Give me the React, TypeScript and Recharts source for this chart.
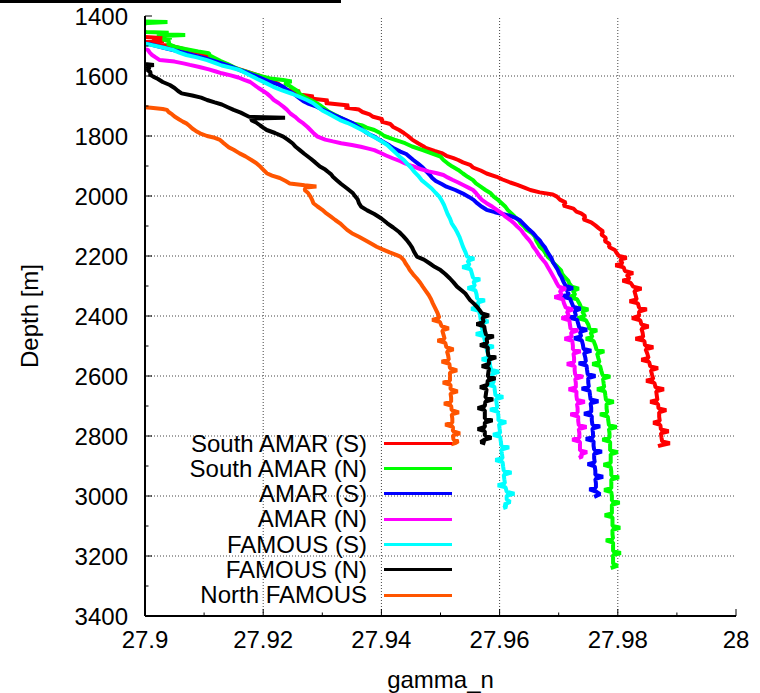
import React from 'react';
import { LineChart, Line, XAxis, YAxis, ReferenceLine, Legend } from 'recharts';

const FONT = 'Liberation Sans, Arial, Helvetica, sans-serif';

const xTicks = [27.9, 27.91, 27.92, 27.93, 27.94, 27.95, 27.96, 27.97, 27.98, 27.99, 28];
const xMajor = [27.9, 27.92, 27.94, 27.96, 27.98, 28];
const yTicks = [1400, 1500, 1600, 1700, 1800, 1900, 2000, 2100, 2200, 2300, 2400, 2500, 2600, 2700, 2800, 2900, 3000, 3100, 3200, 3300, 3400];
const yMajor = [1400, 1600, 1800, 2000, 2200, 2400, 2600, 2800, 3000, 3200, 3400];
const xGrid = [27.92, 27.94, 27.96, 27.98];
const yGrid = [1600, 1800, 2000, 2200, 2400, 2600, 2800, 3000, 3200];

const seriesNames = ['South AMAR (S)', 'South AMAR (N)', 'AMAR (S)', 'AMAR (N)', 'FAMOUS (S)', 'FAMOUS (N)', 'North FAMOUS'];
const seriesColors = ['#ff0000', '#00ff00', '#0000ff', '#ff00ff', '#00ffff', '#000000', '#ff5500'];

// [depth (m), gamma_n]
const southAmarS: [number, number][] = [
  [1470, 27.9], [1474, 27.9036], [1478, 27.9012], [1483, 27.9032], [1488, 27.899],
  [1500, 27.9045], [1525, 27.9095], [1550, 27.9125], [1575, 27.9155], [1600, 27.9195], [1625, 27.9225],
  [1647, 27.924], [1652, 27.9262], [1660, 27.9255], [1668, 27.9285], [1675, 27.928], [1682, 27.931],
  [1690, 27.9305], [1698, 27.9345], [1705, 27.9338], [1712, 27.9362], [1720, 27.9368], [1728, 27.938],
  [1736, 27.9386], [1744, 27.9402], [1752, 27.94], [1760, 27.9415], [1770, 27.942], [1780, 27.943],
  [1790, 27.9438], [1800, 27.9445], [1812, 27.9452], [1824, 27.9462], [1833, 27.947], [1840, 27.9475],
  [1850, 27.949], [1857, 27.9502], [1866, 27.951], [1874, 27.9522], [1880, 27.953], [1888, 27.9538],
  [1896, 27.955], [1905, 27.9555], [1915, 27.9568], [1925, 27.9578], [1936, 27.9595], [1945, 27.9605],
  [1955, 27.9618], [1963, 27.963], [1972, 27.9642], [1980, 27.9652], [1988, 27.9668], [1995, 27.969],
  [2002, 27.9697], [2012, 27.9702], [2022, 27.9712], [2032, 27.9708], [2042, 27.9725], [2052, 27.973],
  [2058, 27.9738], [2068, 27.9745], [2078, 27.9742], [2088, 27.9755], [2098, 27.9762], [2108, 27.9768],
  [2118, 27.9775], [2128, 27.9772], [2140, 27.978], [2150, 27.9778], [2160, 27.9786], [2170, 27.9785],
  [2180, 27.9795], [2190, 27.9798], [2200, 27.9802], [2206, 27.9815], [2212, 27.9804], [2225, 27.9808],
  [2231, 27.9796], [2238, 27.981], [2250, 27.9812], [2257, 27.9826], [2263, 27.9815], [2276, 27.982],
  [2282, 27.9808], [2290, 27.9822], [2302, 27.9826], [2309, 27.984], [2316, 27.9828], [2330, 27.983],
  [2345, 27.9832], [2351, 27.982], [2358, 27.9834], [2372, 27.9836], [2378, 27.9849], [2385, 27.9836],
  [2400, 27.9836], [2407, 27.9824], [2414, 27.9838], [2428, 27.984], [2435, 27.9852], [2442, 27.984],
  [2456, 27.9842], [2470, 27.9843], [2476, 27.983], [2483, 27.9845], [2498, 27.9846], [2504, 27.986],
  [2511, 27.9847], [2526, 27.985], [2540, 27.9852], [2546, 27.984], [2553, 27.9853], [2568, 27.9855],
  [2574, 27.9868], [2581, 27.9856], [2596, 27.9858], [2610, 27.986], [2616, 27.9848], [2623, 27.9862],
  [2638, 27.9864], [2644, 27.9878], [2651, 27.9865], [2666, 27.9866], [2680, 27.9867], [2686, 27.9855],
  [2693, 27.9868], [2708, 27.9869], [2714, 27.9882], [2721, 27.987], [2736, 27.987], [2750, 27.9871],
  [2756, 27.986], [2763, 27.9872], [2778, 27.9873], [2784, 27.9886], [2791, 27.9873], [2806, 27.9874],
  [2818, 27.9875], [2824, 27.9888], [2830, 27.9875], [2834, 27.9868],
];

const southAmarN: [number, number][] = [
  [1418, 27.9], [1420, 27.9038], [1423, 27.9005], [1430, 27.899], [1448, 27.899], [1453, 27.9002],
  [1456, 27.904], [1460, 27.902], [1463, 27.9068], [1467, 27.903], [1472, 27.9045], [1478, 27.903],
  [1485, 27.9042], [1492, 27.9038], [1502, 27.905], [1510, 27.9068], [1518, 27.909], [1524, 27.9108],
  [1532, 27.911], [1540, 27.9118], [1550, 27.9128], [1560, 27.914], [1570, 27.915], [1580, 27.9162],
  [1590, 27.9178], [1600, 27.9195], [1608, 27.9212], [1613, 27.9234], [1618, 27.9248], [1624, 27.9236],
  [1632, 27.9244], [1640, 27.925], [1650, 27.9258], [1660, 27.9262], [1670, 27.927], [1680, 27.928],
  [1690, 27.929], [1700, 27.9298], [1710, 27.9305], [1720, 27.9312], [1730, 27.9322], [1740, 27.9332],
  [1750, 27.9342], [1758, 27.9352], [1765, 27.9368], [1772, 27.9375], [1780, 27.9388], [1790, 27.9398],
  [1800, 27.9405], [1812, 27.9422], [1824, 27.944], [1835, 27.9452], [1847, 27.947], [1858, 27.9485],
  [1869, 27.95], [1880, 27.9505], [1891, 27.9512], [1902, 27.952], [1913, 27.953], [1925, 27.9538],
  [1936, 27.9546], [1947, 27.9555], [1958, 27.956], [1969, 27.9568], [1980, 27.9576], [1991, 27.9585],
  [2002, 27.959], [2014, 27.9598], [2025, 27.9604], [2036, 27.961], [2047, 27.9614], [2058, 27.962],
  [2070, 27.9626], [2080, 27.9632], [2092, 27.9636], [2103, 27.9642], [2113, 27.9646], [2124, 27.9655],
  [2136, 27.966], [2148, 27.9662], [2158, 27.9665], [2169, 27.9668], [2180, 27.9674], [2192, 27.9678],
  [2204, 27.9682], [2214, 27.9688], [2225, 27.9692], [2236, 27.9698], [2248, 27.9704], [2260, 27.9706],
  [2270, 27.971], [2282, 27.9716], [2292, 27.9718], [2302, 27.9722], [2309, 27.9734], [2316, 27.9724],
  [2330, 27.9728], [2337, 27.9716], [2344, 27.9731], [2358, 27.9735], [2372, 27.9738], [2378, 27.975],
  [2385, 27.974], [2400, 27.9744], [2407, 27.9732], [2414, 27.9746], [2428, 27.975], [2442, 27.9752],
  [2448, 27.9765], [2455, 27.9754], [2470, 27.9757], [2476, 27.9746], [2483, 27.9759], [2498, 27.9762],
  [2512, 27.9764], [2518, 27.9777], [2525, 27.9765], [2540, 27.9767], [2554, 27.9769], [2560, 27.9757],
  [2567, 27.977], [2582, 27.9772], [2596, 27.9774], [2602, 27.9787], [2609, 27.9775], [2624, 27.9776],
  [2638, 27.9777], [2644, 27.9765], [2651, 27.9778], [2666, 27.9779], [2680, 27.978], [2686, 27.9793],
  [2693, 27.9781], [2708, 27.9781], [2722, 27.9782], [2728, 27.977], [2735, 27.9783], [2750, 27.9784],
  [2764, 27.9785], [2770, 27.9798], [2777, 27.9785], [2792, 27.9786], [2806, 27.9786], [2812, 27.9774],
  [2819, 27.9787], [2834, 27.9787], [2848, 27.9787], [2854, 27.98], [2861, 27.9788], [2876, 27.9788],
  [2890, 27.9788], [2896, 27.9776], [2903, 27.9788], [2918, 27.9789], [2932, 27.9789], [2938, 27.9802],
  [2945, 27.9789], [2960, 27.9789], [2974, 27.9789], [2980, 27.9777], [2987, 27.9789], [3002, 27.979],
  [3016, 27.979], [3022, 27.9803], [3029, 27.979], [3044, 27.979], [3058, 27.979], [3064, 27.9778],
  [3071, 27.9791], [3086, 27.9791], [3100, 27.9791], [3106, 27.9804], [3113, 27.9791], [3128, 27.9791],
  [3142, 27.9792], [3148, 27.978], [3155, 27.9792], [3170, 27.9792], [3184, 27.9792], [3190, 27.9805],
  [3197, 27.9792], [3212, 27.9792], [3226, 27.9792], [3232, 27.98], [3240, 27.9788],
];

const amarS: [number, number][] = [
  [1490, 27.8992], [1494, 27.9008], [1500, 27.902], [1510, 27.904], [1517, 27.9055], [1524, 27.907],
  [1532, 27.9085], [1540, 27.91], [1549, 27.9115], [1558, 27.913], [1568, 27.9145], [1580, 27.916],
  [1590, 27.9175], [1602, 27.919], [1612, 27.9202], [1620, 27.9212], [1628, 27.9225], [1636, 27.9234],
  [1648, 27.9242], [1660, 27.9252], [1672, 27.926], [1684, 27.9268], [1691, 27.9275], [1700, 27.9288],
  [1710, 27.9298], [1720, 27.931], [1730, 27.932], [1740, 27.9332], [1747, 27.934], [1756, 27.935],
  [1766, 27.9358], [1775, 27.9365], [1785, 27.9372], [1795, 27.938], [1802, 27.9388], [1812, 27.9396],
  [1822, 27.9405], [1832, 27.9414], [1842, 27.9422], [1852, 27.9432], [1860, 27.9442], [1870, 27.9448],
  [1880, 27.9454], [1892, 27.9462], [1905, 27.947], [1918, 27.9476], [1930, 27.9482], [1940, 27.9486],
  [1950, 27.9492], [1960, 27.9502], [1969, 27.951], [1980, 27.9525], [1992, 27.9538], [2003, 27.9548],
  [2013, 27.9556], [2024, 27.9562], [2036, 27.957], [2046, 27.9578], [2054, 27.9592], [2060, 27.9605],
  [2066, 27.9618], [2074, 27.9628], [2082, 27.9635], [2092, 27.964], [2102, 27.9645], [2112, 27.965],
  [2124, 27.9657], [2136, 27.9662], [2148, 27.9668], [2160, 27.9672], [2172, 27.9677], [2184, 27.968],
  [2196, 27.9684], [2208, 27.9688], [2220, 27.969], [2232, 27.9694], [2245, 27.9698], [2258, 27.9701],
  [2272, 27.9705], [2286, 27.9708], [2300, 27.9712], [2307, 27.9724], [2314, 27.9714], [2328, 27.9717],
  [2335, 27.9705], [2342, 27.9719], [2356, 27.9722], [2370, 27.9725], [2376, 27.9737], [2383, 27.9727],
  [2398, 27.9729], [2405, 27.9717], [2412, 27.9731], [2426, 27.9733], [2440, 27.9735], [2446, 27.9748],
  [2453, 27.9736], [2468, 27.9738], [2474, 27.9726], [2481, 27.9739], [2496, 27.9741], [2510, 27.9742],
  [2516, 27.9755], [2523, 27.9743], [2538, 27.9745], [2552, 27.9746], [2558, 27.9734], [2565, 27.9747],
  [2580, 27.9748], [2594, 27.9749], [2600, 27.9762], [2607, 27.975], [2622, 27.975], [2636, 27.9751],
  [2642, 27.9739], [2649, 27.9752], [2664, 27.9753], [2678, 27.9754], [2684, 27.9767], [2691, 27.9754],
  [2706, 27.9755], [2720, 27.9755], [2726, 27.9743], [2733, 27.9756], [2748, 27.9756], [2762, 27.9757],
  [2768, 27.977], [2775, 27.9757], [2790, 27.9758], [2804, 27.9758], [2810, 27.9746], [2817, 27.9759],
  [2832, 27.9759], [2846, 27.976], [2852, 27.9773], [2859, 27.976], [2874, 27.976], [2888, 27.9761],
  [2894, 27.9749], [2901, 27.9761], [2916, 27.9762], [2930, 27.9762], [2936, 27.9775], [2943, 27.9762],
  [2958, 27.9763], [2972, 27.9763], [2978, 27.9752], [2985, 27.9763], [2994, 27.977], [3003, 27.976],
];

const amarN: [number, number][] = [
  [1508, 27.8992], [1513, 27.9005], [1522, 27.9008], [1530, 27.9012], [1538, 27.9018], [1547, 27.9025],
  [1552, 27.905], [1558, 27.9065], [1563, 27.9076], [1570, 27.9092], [1578, 27.9108], [1585, 27.912],
  [1591, 27.913], [1598, 27.9145], [1605, 27.9158], [1613, 27.9168], [1620, 27.9178], [1630, 27.9185],
  [1640, 27.9192], [1650, 27.92], [1658, 27.9206], [1668, 27.9212], [1680, 27.9218], [1690, 27.9226],
  [1702, 27.9234], [1712, 27.924], [1725, 27.9246], [1736, 27.9254], [1747, 27.926], [1758, 27.9268],
  [1770, 27.9275], [1780, 27.928], [1792, 27.9286], [1802, 27.9292], [1812, 27.9305], [1818, 27.9318],
  [1824, 27.9332], [1830, 27.935], [1836, 27.9365], [1842, 27.9378], [1847, 27.9388], [1856, 27.9398],
  [1865, 27.9408], [1875, 27.942], [1884, 27.9432], [1891, 27.944], [1900, 27.9452], [1910, 27.9466],
  [1918, 27.948], [1924, 27.9494], [1930, 27.9505], [1938, 27.9512], [1946, 27.952], [1955, 27.953],
  [1965, 27.954], [1973, 27.9548], [1980, 27.9555], [1990, 27.956], [2002, 27.9565], [2013, 27.957],
  [2024, 27.9578], [2036, 27.9588], [2047, 27.9596], [2058, 27.9604], [2069, 27.961], [2080, 27.9618],
  [2092, 27.9625], [2102, 27.963], [2113, 27.9636], [2124, 27.964], [2136, 27.9645], [2147, 27.965],
  [2158, 27.9654], [2169, 27.9657], [2182, 27.9662], [2195, 27.9666], [2210, 27.9672], [2224, 27.9678],
  [2238, 27.9682], [2252, 27.9686], [2266, 27.969], [2280, 27.9694], [2292, 27.9697], [2302, 27.97],
  [2309, 27.9712], [2316, 27.9702], [2330, 27.9705], [2337, 27.9693], [2344, 27.9707], [2358, 27.9709],
  [2372, 27.9712], [2378, 27.9724], [2385, 27.9714], [2400, 27.9717], [2407, 27.9705], [2414, 27.9718],
  [2428, 27.9719], [2442, 27.972], [2448, 27.9733], [2455, 27.9721], [2470, 27.9722], [2476, 27.971],
  [2483, 27.9723], [2498, 27.9724], [2512, 27.9724], [2518, 27.9737], [2525, 27.9725], [2540, 27.9726],
  [2554, 27.9726], [2560, 27.9714], [2567, 27.9727], [2582, 27.9727], [2596, 27.9728], [2602, 27.9741],
  [2609, 27.9728], [2624, 27.9729], [2638, 27.9729], [2644, 27.9717], [2651, 27.973], [2666, 27.973],
  [2680, 27.9731], [2686, 27.9744], [2693, 27.9731], [2708, 27.9732], [2722, 27.9732], [2728, 27.972],
  [2735, 27.9733], [2750, 27.9733], [2764, 27.9734], [2770, 27.9747], [2777, 27.9734], [2792, 27.9735],
  [2806, 27.9735], [2812, 27.9723], [2819, 27.9736], [2834, 27.9736], [2848, 27.9736], [2854, 27.9748],
  [2861, 27.9737], [2868, 27.974], [2873, 27.9734],
];

const famousS: [number, number][] = [
  [1490, 27.8992], [1494, 27.9005], [1497, 27.9012], [1505, 27.903], [1513, 27.9047], [1522, 27.9058],
  [1530, 27.907], [1538, 27.9088], [1547, 27.9105], [1556, 27.9118], [1565, 27.913], [1572, 27.9145],
  [1580, 27.916], [1590, 27.917], [1600, 27.918], [1610, 27.919], [1622, 27.9203], [1636, 27.9217],
  [1648, 27.9232], [1660, 27.925], [1670, 27.9262], [1680, 27.9274], [1690, 27.9284], [1702, 27.9292],
  [1715, 27.93], [1725, 27.931], [1736, 27.932], [1747, 27.933], [1756, 27.9342], [1765, 27.9352],
  [1775, 27.9362], [1785, 27.9372], [1795, 27.938], [1802, 27.9386], [1815, 27.9398], [1830, 27.941],
  [1845, 27.9418], [1858, 27.9425], [1869, 27.9431], [1880, 27.9438], [1891, 27.9443], [1905, 27.945],
  [1918, 27.9455], [1932, 27.9462], [1947, 27.9468], [1960, 27.9476], [1975, 27.9485], [1990, 27.9492],
  [2002, 27.9498], [2015, 27.9502], [2030, 27.9506], [2045, 27.9509], [2060, 27.9512], [2075, 27.9516],
  [2091, 27.9519], [2106, 27.9524], [2120, 27.9528], [2136, 27.9532], [2152, 27.9535], [2169, 27.9538],
  [2186, 27.9542], [2202, 27.9545], [2209, 27.9557], [2216, 27.9546], [2230, 27.9549], [2237, 27.9537],
  [2244, 27.9551], [2258, 27.9553], [2272, 27.9555], [2278, 27.9567], [2285, 27.9556], [2300, 27.9558],
  [2307, 27.9546], [2314, 27.9559], [2328, 27.9561], [2342, 27.9562], [2348, 27.9575], [2355, 27.9563],
  [2370, 27.9564], [2376, 27.9552], [2383, 27.9565], [2398, 27.9567], [2412, 27.9568], [2418, 27.9581],
  [2425, 27.9569], [2440, 27.957], [2454, 27.9572], [2460, 27.956], [2467, 27.9573], [2482, 27.9575],
  [2496, 27.9577], [2502, 27.959], [2509, 27.9578], [2524, 27.958], [2538, 27.9582], [2544, 27.957],
  [2551, 27.9583], [2566, 27.9584], [2580, 27.9586], [2586, 27.9599], [2593, 27.9587], [2608, 27.9589],
  [2622, 27.959], [2628, 27.9578], [2635, 27.9591], [2650, 27.9592], [2664, 27.9593], [2670, 27.9606],
  [2677, 27.9594], [2692, 27.9595], [2706, 27.9596], [2712, 27.9584], [2719, 27.9597], [2734, 27.9598],
  [2748, 27.9598], [2754, 27.9611], [2761, 27.9599], [2776, 27.96], [2790, 27.9601], [2796, 27.9589],
  [2803, 27.9601], [2818, 27.9602], [2832, 27.9603], [2838, 27.9616], [2845, 27.9603], [2860, 27.9604],
  [2874, 27.9605], [2880, 27.9593], [2887, 27.9605], [2902, 27.9606], [2916, 27.9607], [2922, 27.962],
  [2929, 27.9607], [2944, 27.9608], [2958, 27.9609], [2964, 27.9597], [2971, 27.961], [2986, 27.9612],
  [2992, 27.9625], [2999, 27.9612], [3012, 27.9612], [3020, 27.9618], [3028, 27.9608], [3036, 27.9612],
  [3040, 27.9606],
];

const famousN: [number, number][] = [
  [1557, 27.8992], [1560, 27.9], [1563, 27.9015], [1567, 27.9002], [1572, 27.9008], [1580, 27.9004],
  [1588, 27.901], [1595, 27.9008], [1602, 27.9014], [1610, 27.9022], [1620, 27.903], [1630, 27.9042],
  [1640, 27.905], [1650, 27.9056], [1658, 27.9062], [1665, 27.908], [1672, 27.9095], [1680, 27.9105],
  [1688, 27.9118], [1695, 27.913], [1704, 27.914], [1713, 27.915], [1722, 27.9162], [1730, 27.917],
  [1736, 27.9176], [1739, 27.9237], [1742, 27.918], [1747, 27.918], [1755, 27.9188], [1765, 27.9195],
  [1772, 27.92], [1780, 27.9206], [1790, 27.922], [1802, 27.9234], [1813, 27.9242], [1825, 27.925],
  [1836, 27.9255], [1847, 27.9262], [1860, 27.927], [1875, 27.928], [1888, 27.9288], [1902, 27.9296],
  [1912, 27.9305], [1920, 27.931], [1928, 27.9315], [1936, 27.9318], [1948, 27.9325], [1960, 27.9332],
  [1975, 27.9342], [1991, 27.9352], [2002, 27.9356], [2012, 27.936], [2024, 27.9362], [2036, 27.9366],
  [2048, 27.9376], [2060, 27.9388], [2075, 27.94], [2091, 27.941], [2105, 27.942], [2120, 27.943],
  [2134, 27.9437], [2147, 27.9443], [2160, 27.9448], [2172, 27.9452], [2185, 27.9455], [2202, 27.946],
  [2212, 27.9472], [2225, 27.9482], [2236, 27.949], [2247, 27.95], [2260, 27.9508], [2275, 27.9516],
  [2288, 27.9522], [2302, 27.9528], [2315, 27.9536], [2325, 27.9542], [2336, 27.9546], [2347, 27.955],
  [2358, 27.9556], [2370, 27.9562], [2380, 27.9566], [2391, 27.957], [2398, 27.9582], [2405, 27.9571],
  [2420, 27.9573], [2427, 27.9561], [2434, 27.9574], [2448, 27.9575], [2462, 27.9577], [2468, 27.959],
  [2475, 27.9578], [2490, 27.9579], [2497, 27.9567], [2504, 27.958], [2518, 27.958], [2532, 27.9581],
  [2538, 27.9594], [2545, 27.9582], [2560, 27.9582], [2567, 27.957], [2574, 27.9582], [2588, 27.9581],
  [2602, 27.958], [2608, 27.9593], [2615, 27.958], [2630, 27.9579], [2637, 27.9567], [2644, 27.9578],
  [2658, 27.9577], [2672, 27.9576], [2678, 27.9589], [2685, 27.9576], [2700, 27.9575], [2707, 27.9563],
  [2714, 27.9575], [2728, 27.9575], [2742, 27.9575], [2748, 27.9588], [2755, 27.9575], [2770, 27.9575],
  [2777, 27.9563], [2784, 27.9575], [2798, 27.9575], [2806, 27.9586], [2812, 27.9575], [2820, 27.9568],
  [2825, 27.9576],
];

const northFamous: [number, number][] = [
  [1703, 27.8995], [1706, 27.901], [1710, 27.903], [1713, 27.9037], [1720, 27.904], [1728, 27.9046],
  [1735, 27.905], [1745, 27.9058], [1752, 27.9064], [1758, 27.907], [1766, 27.9075], [1775, 27.908],
  [1783, 27.9086], [1791, 27.9093], [1800, 27.9105], [1806, 27.9118], [1813, 27.9127], [1822, 27.9132],
  [1830, 27.9137], [1838, 27.9142], [1846, 27.915], [1858, 27.916], [1868, 27.917], [1880, 27.918],
  [1890, 27.9188], [1902, 27.9195], [1912, 27.92], [1924, 27.9206], [1932, 27.9215], [1940, 27.9228],
  [1950, 27.9238], [1958, 27.9245], [1964, 27.927], [1968, 27.929], [1972, 27.9272], [1980, 27.927],
  [1990, 27.9276], [2002, 27.928], [2014, 27.9283], [2024, 27.9285], [2035, 27.9292], [2046, 27.93],
  [2058, 27.9307], [2068, 27.9314], [2080, 27.9322], [2091, 27.933], [2102, 27.9336], [2113, 27.9342],
  [2124, 27.935], [2136, 27.9362], [2150, 27.9375], [2160, 27.9384], [2169, 27.9392], [2178, 27.9402],
  [2188, 27.9414], [2196, 27.9425], [2202, 27.9432], [2214, 27.9438], [2225, 27.9441], [2236, 27.9445],
  [2247, 27.9448], [2262, 27.9454], [2275, 27.946], [2290, 27.9466], [2302, 27.947], [2316, 27.9475],
  [2330, 27.948], [2344, 27.9484], [2358, 27.9487], [2374, 27.9491], [2390, 27.9495], [2406, 27.9498],
  [2413, 27.9486], [2420, 27.9499], [2434, 27.9502], [2441, 27.9514], [2448, 27.9503], [2462, 27.9505],
  [2476, 27.9507], [2482, 27.9495], [2489, 27.9508], [2504, 27.951], [2511, 27.9522], [2518, 27.9511],
  [2532, 27.9513], [2546, 27.9514], [2552, 27.9502], [2559, 27.9515], [2574, 27.9516], [2581, 27.9528],
  [2588, 27.9516], [2602, 27.9516], [2616, 27.9516], [2622, 27.9504], [2629, 27.9517], [2644, 27.9517],
  [2651, 27.9529], [2658, 27.9517], [2672, 27.9518], [2686, 27.9518], [2692, 27.9506], [2699, 27.9518],
  [2714, 27.9519], [2721, 27.9531], [2728, 27.9519], [2742, 27.952], [2756, 27.952], [2762, 27.9508],
  [2769, 27.9521], [2784, 27.9521], [2791, 27.9533], [2798, 27.9521], [2812, 27.9522], [2818, 27.953],
  [2823, 27.9526], [2828, 27.9518],
];

const allSeries = [southAmarS, southAmarN, amarS, amarN, famousS, famousN, northFamous];
const toRows = (s: [number, number][]) => s.map(([d, g]) => ({ d, g }));

const isMajor = (v: number, list: number[]) => list.some((m) => Math.abs(m - v) < 1e-6);

const MAJOR_LEN = 7;
const MINOR_LEN = 3.5;
const X_MARGIN = 15;
const Y_MARGIN = 17;

const BottomTick = (props: any) => {
  const { x, y, payload } = props;
  const major = isMajor(payload.value, xMajor);
  const base = y - X_MARGIN;
  return (
    <g>
      <line x1={x} x2={x} y1={base} y2={base - (major ? MAJOR_LEN : MINOR_LEN)} stroke="#000" strokeWidth={1} />
      {major && (
        <text x={x} y={y} dy="0.71em" textAnchor="middle" fontSize={24} fontFamily={FONT} fill="#000">
          {String(payload.value)}
        </text>
      )}
    </g>
  );
};

const TopTick = (props: any) => {
  const { x, y, payload } = props;
  const major = isMajor(payload.value, xMajor);
  return <line x1={x} x2={x} y1={y} y2={y + (major ? MAJOR_LEN : MINOR_LEN)} stroke="#000" strokeWidth={1} />;
};

const LeftTick = (props: any) => {
  const { x, y, payload } = props;
  const major = isMajor(payload.value, yMajor);
  const base = x + Y_MARGIN;
  return (
    <g>
      <line x1={base} x2={base + (major ? MAJOR_LEN : MINOR_LEN)} y1={y} y2={y} stroke="#000" strokeWidth={1} />
      {major && (
        <text x={x} y={y} textAnchor="end" dominantBaseline="central" fontSize={24} fontFamily={FONT} fill="#000">
          {String(payload.value)}
        </text>
      )}
    </g>
  );
};

const RightTick = (props: any) => {
  const { x, y, payload } = props;
  const major = isMajor(payload.value, yMajor);
  return <line x1={x} x2={x - (major ? MAJOR_LEN : MINOR_LEN)} y1={y} y2={y} stroke="#000" strokeWidth={1} />;
};

const XLabel = (props: any) => {
  const vb = props.viewBox;
  return (
    <text x={vb.x + vb.width / 2} y={vb.y + vb.height - 5} textAnchor="middle" fontSize={24} fontFamily={FONT} fill="#000">
      gamma_n
    </text>
  );
};

const YLabel = (props: any) => {
  const vb = props.viewBox;
  const cx = vb.x + 29;
  const cy = vb.y + vb.height / 2;
  return (
    <text x={cx} y={cy} transform={`rotate(-90 ${cx} ${cy})`} textAnchor="middle" dominantBaseline="central" fontSize={24} fontFamily={FONT} fill="#000">
      Depth [m]
    </text>
  );
};

const renderLegend = () => (
  <div style={{ fontFamily: FONT, fontSize: 24, color: '#000' }}>
    {seriesNames.map((name, i) => (
      <div key={name} style={{ display: 'flex', alignItems: 'center', height: 25.3, lineHeight: '25.3px' }}>
        <span style={{ width: 217, textAlign: 'right', whiteSpace: 'nowrap' }}>{name}</span>
        <span style={{ width: 17 }} />
        <span style={{ display: 'inline-block', width: 68, height: 3, background: seriesColors[i] }} />
      </div>
    ))}
  </div>
);

export default function App() {
  return (
    <div style={{ position: 'absolute', left: 0, top: 0, width: 760, height: 693, background: '#fff' }}>
      <div style={{ position: 'absolute', left: 0, top: 0, width: 341, height: 3, background: '#000' }} />
      <LineChart width={760} height={693} margin={{ top: 16, right: 24, bottom: 0, left: 0 }}>
        {xGrid.map((v) => (
          <ReferenceLine key={`gx${v}`} x={v} stroke="#444" strokeWidth={1} strokeDasharray="1 2" />
        ))}
        {yGrid.map((v) => (
          <ReferenceLine key={`gy${v}`} y={v} stroke="#444" strokeWidth={1} strokeDasharray="1 2" />
        ))}
        <XAxis
          dataKey="g"
          type="number"
          domain={[27.9, 28]}
          allowDataOverflow
          ticks={xTicks}
          interval={0}
          height={77}
          tickSize={0}
          tickMargin={X_MARGIN}
          tickLine={false}
          tick={BottomTick}
          axisLine={{ stroke: '#000', strokeWidth: 2 }}
          label={{ content: XLabel }}
        />
        <XAxis
          xAxisId="top"
          orientation="top"
          mirror
          type="number"
          domain={[27.9, 28]}
          allowDataOverflow
          ticks={xTicks}
          interval={0}
          height={0}
          tickSize={0}
          tickMargin={0}
          tickLine={false}
          tick={TopTick}
          axisLine={{ stroke: '#000', strokeWidth: 2 }}
        />
        <YAxis
          type="number"
          domain={[1400, 3400]}
          reversed
          allowDataOverflow
          ticks={yTicks}
          interval={0}
          width={145}
          tickSize={0}
          tickMargin={Y_MARGIN}
          tickLine={false}
          tick={LeftTick}
          axisLine={{ stroke: '#000', strokeWidth: 2 }}
          label={{ content: YLabel }}
        />
        <YAxis
          yAxisId="right"
          orientation="right"
          mirror
          type="number"
          domain={[1400, 3400]}
          reversed
          allowDataOverflow
          ticks={yTicks}
          interval={0}
          width={0}
          tickSize={0}
          tickMargin={0}
          tickLine={false}
          tick={RightTick}
          axisLine={{ stroke: '#000', strokeWidth: 2 }}
        />
        {allSeries.map((s, i) => (
          <Line
            key={seriesNames[i]}
            name={seriesNames[i]}
            data={toRows(s)}
            dataKey="d"
            type="linear"
            stroke={seriesColors[i]}
            strokeWidth={4}
            strokeLinejoin="bevel"
            dot={false}
            activeDot={false}
            isAnimationActive={false}
          />
        ))}
        <Legend
          layout="vertical"
          align="center"
          verticalAlign="middle"
          content={renderLegend}
          wrapperStyle={{ left: 150, top: 430.6, width: 310, height: 180 }}
        />
      </LineChart>
    </div>
  );
}
